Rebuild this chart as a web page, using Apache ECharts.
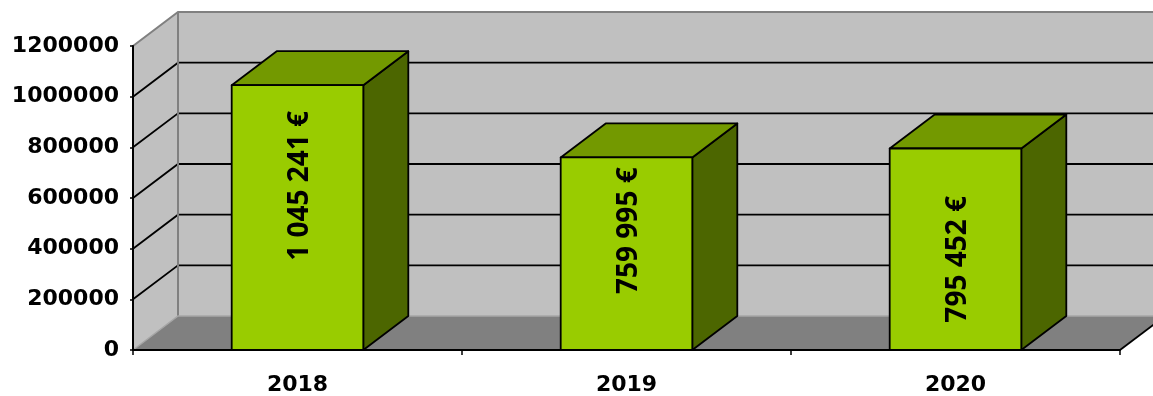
<!DOCTYPE html>
<html>
<head>
<meta charset="utf-8">
<script src="https://cdn.jsdelivr.net/npm/echarts@6/dist/echarts.min.js"></script>
<style>
  html, body { margin: 0; padding: 0; background: #fff; }
  #chart { width: 1153px; height: 396px; }
</style>
</head>
<body>
<div id="chart"></div>
<script>
// Yearly totals in euros
const categories = ['2018', '2019', '2020'];
const amounts = [1045241, 759995, 795452];

// Value axis range and step
const axisMin = 0;
const axisMax = 1200000;
const axisStep = 200000;

// Where each rotated value label sits, as a share of its bar height
const labelAt = [0.62, 0.62, 0.45];

// Depth of the 3D box (pixels)
const DX = 45, DY = -34;

const COLORS = {
  front: '#99CC00',
  top: '#739900',
  side: '#4C6600',
  wall: '#C0C0C0',
  floor: '#808080',
  edge: '#808080',
  innerEdge: '#A6A6A6',
  grid: '#000000'
};

function euro(v) {
  return String(v).replace(/\B(?=(\d{3})+(?!\d))/g, ' ') + ' €';
}

function renderFrame(params, api) {
  const cs = params.coordSys;
  const L = cs.x, R = cs.x + cs.width, T = cs.y, B = cs.y + cs.height;
  const children = [];
  // back wall
  children.push({ type: 'polygon', shape: { points: [[L + DX, T + DY], [R + DX + 40, T + DY], [R + DX + 40, B + DY], [L + DX, B + DY]] },
    style: { fill: COLORS.wall } });
  // left side wall
  children.push({ type: 'polygon', shape: { points: [[L, T], [L + DX, T + DY], [L + DX, B + DY], [L, B]] },
    style: { fill: COLORS.wall } });
  // floor
  children.push({ type: 'polygon', shape: { points: [[L, B], [L + DX, B + DY], [R + DX, B + DY], [R, B]] },
    style: { fill: COLORS.floor } });
  // gridlines on the back and side walls
  for (let v = axisMin + axisStep; v < axisMax; v += axisStep) {
    const y = api.coord([0, v])[1];
    children.push({ type: 'polyline', shape: { points: [[L, y], [L + DX, y + DY], [R + DX + 40, y + DY]] },
      style: { stroke: COLORS.grid, lineWidth: 1.8, fill: null } });
  }
  // outer edges of the walls
  children.push({ type: 'polyline', shape: { points: [[L, T], [L + DX, T + DY], [R + DX + 40, T + DY]] },
    style: { stroke: COLORS.edge, lineWidth: 2, fill: null } });
  children.push({ type: 'line', shape: { x1: L + DX, y1: T + DY, x2: L + DX, y2: B + DY },
    style: { stroke: COLORS.edge, lineWidth: 2 } });
  // joins between floor and walls
  children.push({ type: 'polyline', shape: { points: [[L, B], [L + DX, B + DY], [R + DX + 40, B + DY]] },
    style: { stroke: COLORS.innerEdge, lineWidth: 1.5, fill: null } });
  // right edge of the floor
  children.push({ type: 'line', shape: { x1: R, y1: B, x2: R + DX, y2: B + DY },
    style: { stroke: '#000', lineWidth: 1.8 } });
  return { type: 'group', children };
}

function renderBar(params, api) {
  const i = api.value(0);
  const v = api.value(1);
  const topPt = api.coord([i, v]);
  const basePt = api.coord([i, axisMin]);
  const w = api.size([1, 0])[0] * 0.4;
  const xl = topPt[0] - w / 2, xr = topPt[0] + w / 2;
  const yt = topPt[1], yb = basePt[1];
  const edge = { stroke: '#000', lineWidth: 1.8, lineJoin: 'round' };
  const labelPt = api.coord([i, v * labelAt[i]]);
  return {
    type: 'group',
    children: [
      { type: 'polygon', shape: { points: [[xr, yt], [xr + DX, yt + DY], [xr + DX, yb + DY], [xr, yb]] },
        style: Object.assign({ fill: COLORS.side }, edge) },
      { type: 'polygon', shape: { points: [[xl, yt], [xl + DX, yt + DY], [xr + DX, yt + DY], [xr, yt]] },
        style: Object.assign({ fill: COLORS.top }, edge) },
      { type: 'rect', shape: { x: xl, y: yt, width: w, height: yb - yt },
        style: Object.assign({ fill: COLORS.front }, edge) },
      { type: 'text', x: labelPt[0] + 3, y: labelPt[1], rotation: Math.PI / 2,
        style: { text: euro(v), fill: '#000', fontFamily: 'Open Sans', fontWeight: 'bold', fontSize: 28,
          align: 'center', verticalAlign: 'middle' } }
    ]
  };
}

const chart = echarts.init(document.getElementById('chart'), null, { renderer: 'canvas' });
chart.setOption({
  animation: false,
  backgroundColor: '#ffffff',
  grid: { left: 133, right: 33, top: 46, bottom: 44, containLabel: false },
  xAxis: {
    type: 'category',
    data: categories,
    boundaryGap: true,
    z: 10,
    axisLine: { show: true, lineStyle: { color: '#000', width: 2 } },
    axisTick: { show: true, alignWithLabel: false, length: 5, lineStyle: { color: '#000', width: 1.5 } },
    axisLabel: { color: '#000', fontFamily: 'DejaVu Sans', fontWeight: 'bold', fontSize: 22, margin: 24 },
    splitLine: { show: false }
  },
  yAxis: {
    type: 'value',
    min: axisMin,
    max: axisMax,
    interval: axisStep,
    z: 10,
    axisLine: { show: true, lineStyle: { color: '#000', width: 2 } },
    axisTick: { show: true, length: 3, lineStyle: { color: '#000', width: 1.5 } },
    axisLabel: { color: '#000', fontFamily: 'DejaVu Sans', fontWeight: 'bold', fontSize: 22, margin: 14,
      formatter: v => String(v) },
    splitLine: { show: false }
  },
  series: [
    { type: 'custom', name: 'frame', renderItem: renderFrame, data: [[0, 0]], z: 1, silent: true, clip: false },
    { type: 'custom', name: 'Total', renderItem: renderBar, data: amounts.map((v, i) => [i, v]),
      encode: { x: 0, y: 1 }, z: 3, clip: false }
  ]
});
</script>
</body>
</html>
